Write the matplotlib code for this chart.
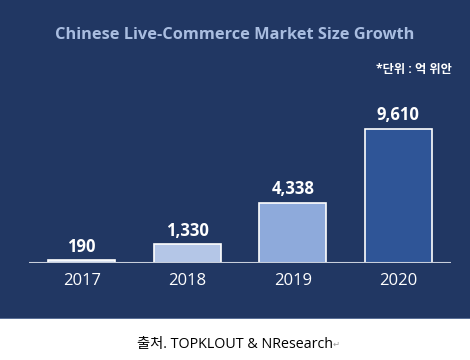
import matplotlib.pyplot as plt
from matplotlib.patches import Rectangle

plt.rcParams['font.family'] = ['Open Sans', 'Noto Sans CJK KR', 'DejaVu Sans']

# data
years = ['2017', '2018', '2019', '2020']
sizes = [190, 1330, 4338, 9610]
labels = ['190', '1,330', '4,338', '9,610']
bar_colors = ['#dae3f3', '#b4c6e7', '#8eaadb', '#2f5597']

navy = '#213763'

fig = plt.figure(figsize=(4.7, 3.6), dpi=100)
fig.patch.set_facecolor('white')

# dark panel behind the chart
fig.patches.append(Rectangle((0, 0.117), 1, 0.883, transform=fig.transFigure,
                             facecolor=navy, edgecolor='none', zorder=-2))
fig.patches.append(Rectangle((0, 0.114), 1, 0.004, transform=fig.transFigure,
                             facecolor='#5a6f96', edgecolor='none', zorder=-2))

ax = fig.add_axes([0.0617, 0.2694, 0.898, 0.426])
ax.set_zorder(2)
ax.set_facecolor('none')
x = range(len(years))
ax.bar(x, sizes, width=0.635, color=bar_colors, edgecolor='white', linewidth=1.2)
for i, v in enumerate(sizes):
    ax.text(i, v + 330, labels[i], ha='center', va='bottom', color='white',
            fontsize=12, fontweight='bold')
ax.set_xlim(-0.5, 3.5)
ax.set_ylim(0, 11000)
ax.axhline(0, color='#c8cfdc', linewidth=1.5)
ax.set_xticks(list(x))
ax.set_xticklabels(years, color='white', fontsize=12)
ax.tick_params(axis='x', length=0, pad=7)
ax.set_yticks([])
for s in ax.spines.values():
    s.set_visible(False)

fig.text(0.5, 0.902, 'Chinese Live-Commerce Market Size Growth', ha='center', va='center',
         color='#a9bde0', fontsize=11.8, fontweight='bold')
fig.text(0.962, 0.808, '*단위 : 억 위안', ha='right', va='center',
         color='white', fontsize=8.8, fontweight='bold')

fig.text(0.499, 0.042, '출처. TOPKLOUT & NResearch', ha='center', va='center',
         color='black', fontsize=10.3)
fig.text(0.708, 0.045, '↵', ha='left', va='center', color='#999999', fontsize=6,
         family=['DejaVu Sans'])

fig.savefig('out.png', dpi=100, facecolor=fig.get_facecolor())
